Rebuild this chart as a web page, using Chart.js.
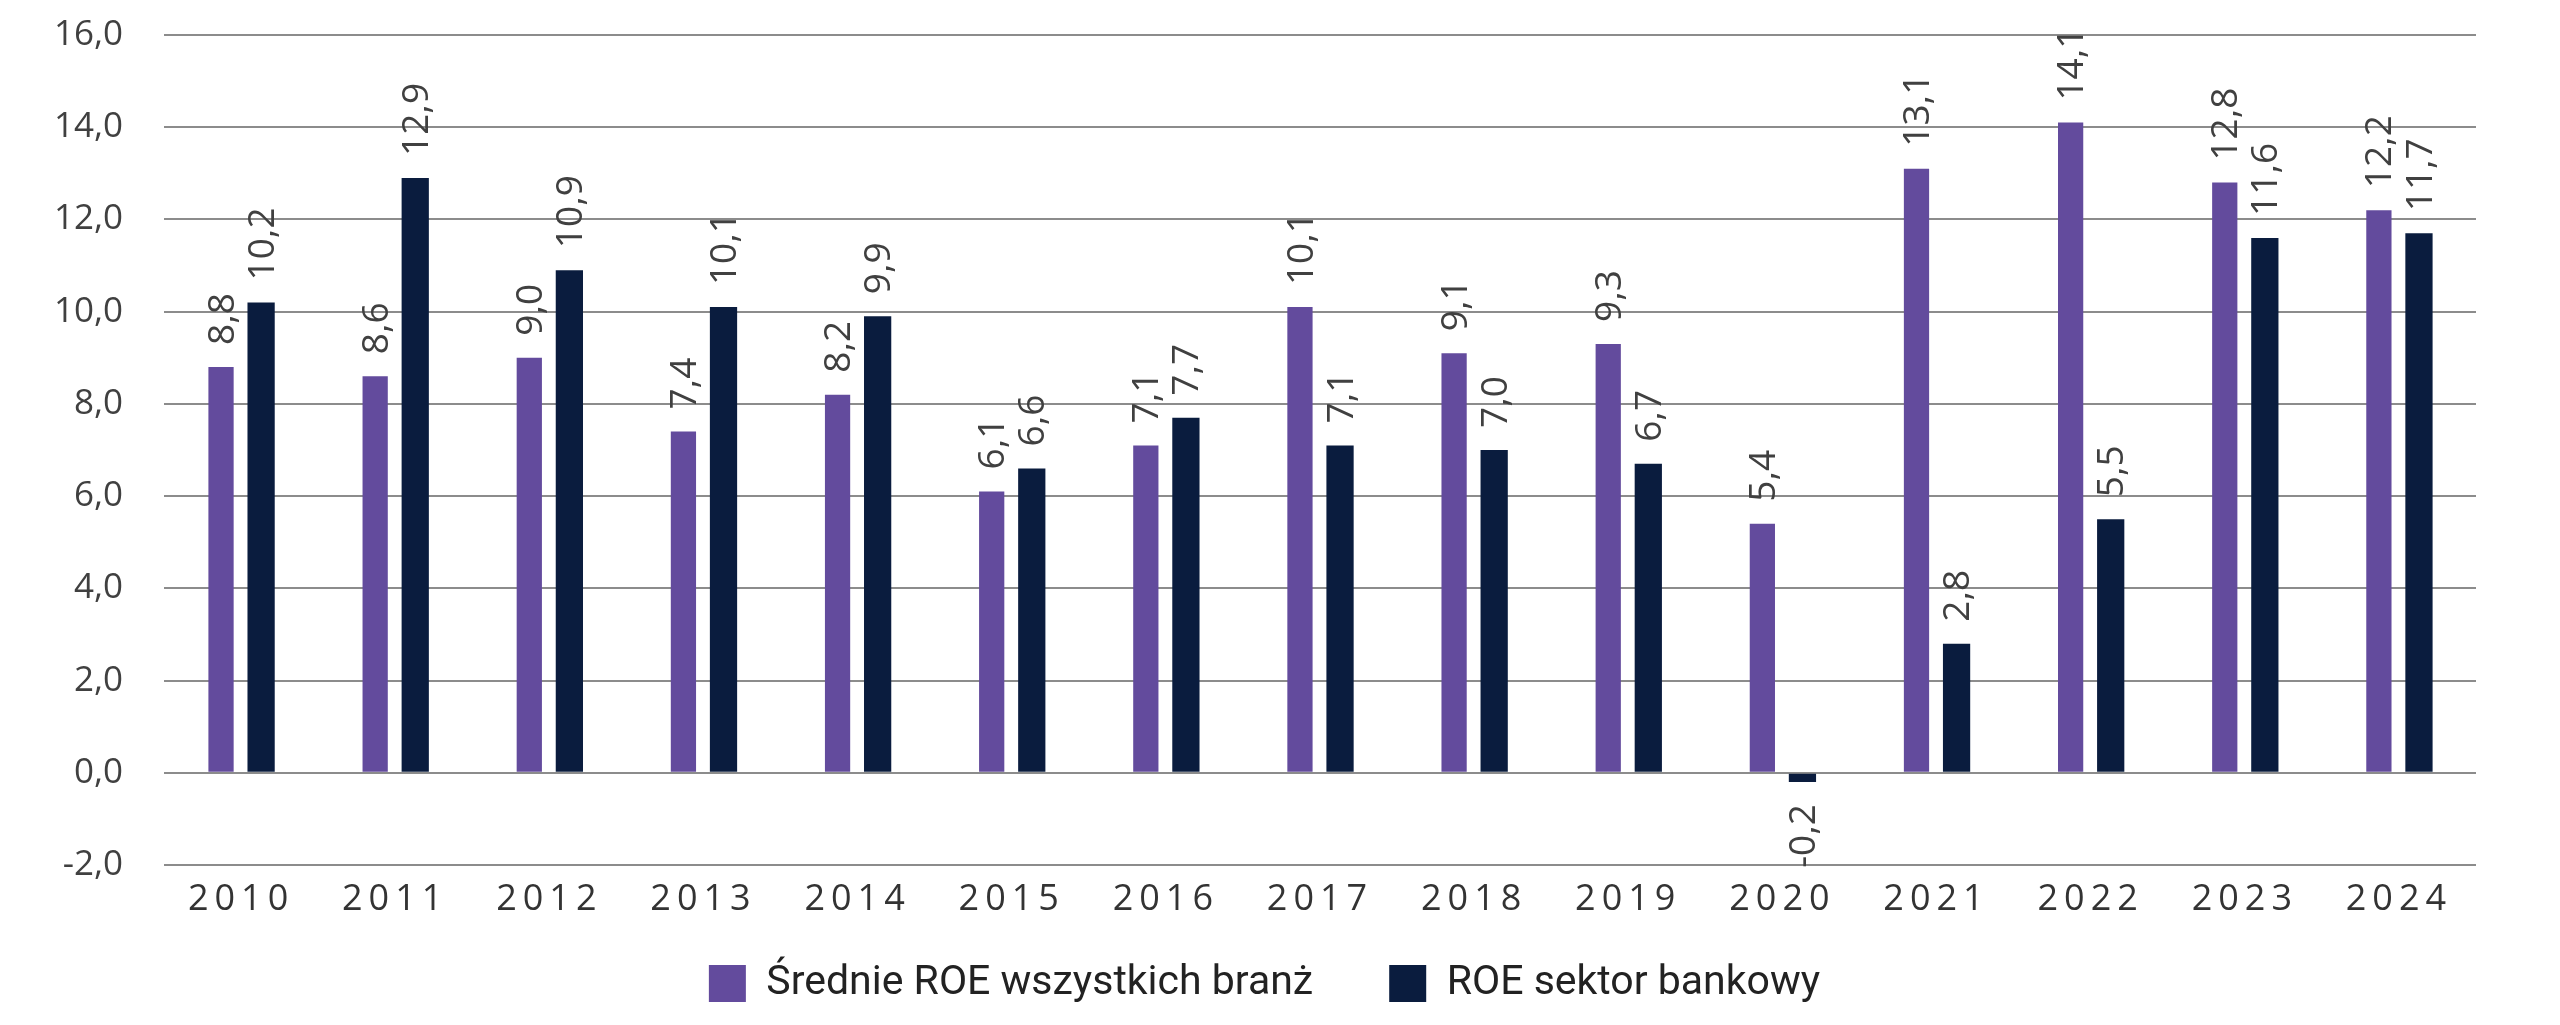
<!DOCTYPE html>
<html>
<head>
<meta charset="utf-8">
<style>
  html, body { margin: 0; padding: 0; background: #ffffff; }
  #wrap { width: 2560px; height: 1025px; }
</style>
<script src="https://cdn.jsdelivr.net/npm/chart.js@4/dist/chart.umd.min.js"></script>
</head>
<body>
<div id="wrap"><canvas id="c" width="2560" height="1025"></canvas></div>
<script>
const categories = ['2010','2011','2012','2013','2014','2015','2016','2017','2018','2019','2020','2021','2022','2023','2024'];
const avgRoe  = [8.8, 8.6, 9.0, 7.4, 8.2, 6.1, 7.1, 10.1, 9.1, 9.3, 5.4, 13.1, 14.1, 12.8, 12.2];
const bankRoe = [10.2, 12.9, 10.9, 10.1, 9.9, 6.6, 7.7, 7.1, 7.0, 6.7, -0.2, 2.8, 5.5, 11.6, 11.7];
const seriesNames = ['Średnie ROE wszystkich branż', 'ROE sektor bankowy'];
const yMin = -2, yMax = 16, yStep = 2;

const fmt = v => Number(v).toFixed(1).replace('.', ',');

const valueLabels = {
  id: 'valueLabels',
  beforeDraw(chart) {
    const sx = chart.scales.x;
    if (sx && !sx.__ls) {
      const orig = sx.drawLabels.bind(sx);
      sx._computeLabelArea = () => undefined;
      sx.drawLabels = function(area) {
        const ctx = chart.ctx;
        ctx.save();
        ctx.letterSpacing = '6px';
        orig(area);
        ctx.restore();
      };
      sx.__ls = true;
    }
  },
  afterDatasetsDraw(chart) {
    const ctx = chart.ctx;
    ctx.save();
    ctx.font = '37px "Open Sans"';
    ctx.fillStyle = '#404040';
    ctx.textBaseline = 'middle';
    chart.data.datasets.forEach((ds, di) => {
      const meta = chart.getDatasetMeta(di);
      meta.data.forEach((el, i) => {
        const v = ds.data[i];
        const off = 22;
        ctx.save();
        if (v >= 0) {
          ctx.translate(el.x + 2, el.y - off);
          ctx.rotate(-Math.PI / 2);
          ctx.textAlign = 'left';
        } else {
          ctx.translate(el.x + 2, el.y + off);
          ctx.rotate(-Math.PI / 2);
          ctx.textAlign = 'right';
        }
        ctx.fillText(fmt(v), 0, 0);
        ctx.restore();
      });
    });
    ctx.restore();
  }
};

new Chart(document.getElementById('c'), {
  type: 'bar',
  data: {
    labels: categories,
    datasets: [
      { label: seriesNames[0], data: avgRoe, backgroundColor: '#634b9d', barPercentage: 0.63, categoryPercentage: 0.52 },
      { label: seriesNames[1], data: bankRoe, backgroundColor: '#0a1c3e', barPercentage: 0.68, categoryPercentage: 0.52 }
    ]
  },
  options: {
    responsive: false,
    animation: false,
    devicePixelRatio: 1,
    layout: { padding: { left: 53, right: 84, top: 35, bottom: 11 } },
    plugins: {
      legend: {
        position: 'bottom',
        labels: {
          boxWidth: 37, boxHeight: 37, padding: 76,
          color: '#222222',
          font: { family: 'Roboto', size: 41 }
        }
      },
      tooltip: { enabled: false }
    },
    scales: {
      x: {
        afterFit: s => { s.height = 22; s.paddingLeft = 0; s.paddingRight = 0; },
        grid: { display: false, drawTicks: false, tickLength: 0 },
        border: { display: false },
        ticks: {
          color: '#333333', padding: 13, autoSkip: false, maxRotation: 0,
          font: { family: 'Open Sans', size: 36 }
        }
      },
      y: {
        min: yMin, max: yMax,
        afterFit: s => { s.width = 111; s.paddingTop = 0; s.paddingBottom = 0; },
        grid: { color: '#8c8c8c', lineWidth: 2, drawTicks: false, tickLength: 0 },
        border: { display: false },
        ticks: {
          stepSize: yStep, padding: 41, color: '#404040',
          font: { family: 'Open Sans', size: 35 },
          callback: v => fmt(v)
        }
      }
    }
  },
  plugins: [valueLabels]
});
</script>
</body>
</html>
